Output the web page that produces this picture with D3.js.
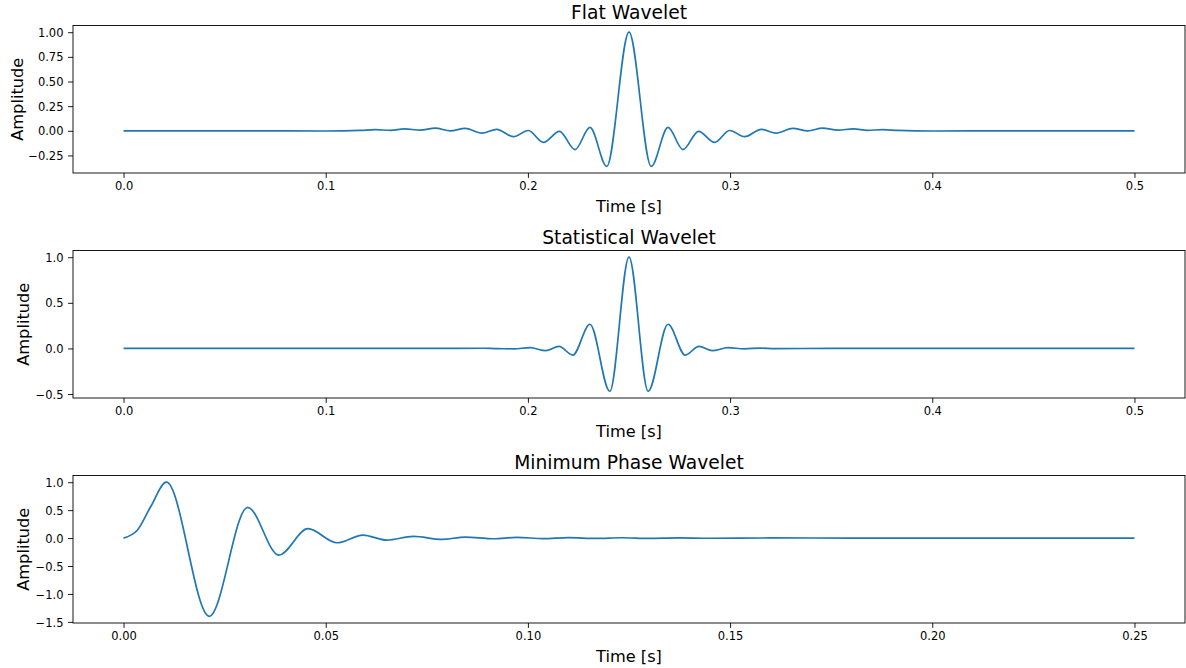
<!DOCTYPE html>
<html>
<head>
<meta charset="utf-8">
<script src="https://cdn.jsdelivr.net/npm/d3@7"></script>
<style>
    body { margin: 0; background: #fff; }
    text { font-family: "DejaVu Sans", sans-serif; fill: #000; }
</style>
</head>
<body>
<div id="chart-area"></div>
<script>
// wavelet samples (time in s, amplitude)
var flatTime = [0.000, 0.060, 0.100, 0.117, 0.1245, 0.132, 0.139, 0.1467, 0.1542, 0.1616, 0.169, 0.1772, 0.1846, 0.1928, 0.2002, 0.2077, 0.2156, 0.2233, 0.2307, 0.2390, 0.2500, 0.2610, 0.2693, 0.2767, 0.2844, 0.2923, 0.2998, 0.3072, 0.3154, 0.3228, 0.3310, 0.3384, 0.3458, 0.3533, 0.3610, 0.3680, 0.3755, 0.383, 0.400, 0.440, 0.500];
var flatAmp  = [0, 0, -0.002, 0.004, 0.012, 0.004, 0.02, 0.007, 0.027, 0.0, 0.025, -0.024, 0.015, -0.06, 0.003, -0.118, -0.005, -0.19, 0.034, -0.36, 1.0, -0.36, 0.034, -0.19, -0.005, -0.118, 0.003, -0.06, 0.015, -0.024, 0.025, 0.0, 0.027, 0.007, 0.02, 0.004, 0.012, 0.004, -0.002, 0, 0];

var statTime = [0.000, 0.150, 0.178, 0.185, 0.193, 0.2011, 0.2088, 0.2154, 0.2222, 0.2307, 0.2405, 0.2500, 0.2595, 0.2693, 0.2778, 0.2846, 0.2912, 0.2989, 0.307, 0.315, 0.322, 0.350, 0.500];
var statAmp  = [0, 0, 0.002, -0.003, -0.004, 0.008, -0.025, 0.022, -0.073, 0.265, -0.47, 1.0, -0.47, 0.265, -0.073, 0.022, -0.025, 0.008, -0.004, 0.003, -0.002, 0, 0];

var minTime = [0.000, 0.0034, 0.0067, 0.0106, 0.0212, 0.0307, 0.0384, 0.0456, 0.0528, 0.0592, 0.0651, 0.0717, 0.0787, 0.0845, 0.0915, 0.0973, 0.1038, 0.110, 0.117, 0.123, 0.130, 0.137, 0.145, 0.160, 0.180, 0.250];
var minAmp  = [0, 0.14, 0.56, 1.0, -1.40, 0.55, -0.305, 0.168, -0.084, 0.054, -0.036, 0.03, -0.024, 0.018, -0.012, 0.012, -0.01, 0.008, -0.007, 0.006, -0.005, 0.004, -0.003, 0.002, 0, 0];

var titles = ["Flat Wavelet", "Statistical Wavelet", "Minimum Phase Wavelet"];
var flatYTicks = [-0.25, 0, 0.25, 0.5, 0.75, 1.0];
var statYTicks = [-0.5, 0, 0.5, 1.0];
var minYTicks = [-1.5, -1.0, -0.5, 0, 0.5, 1.0];
var halfXTicks = [0, 0.1, 0.2, 0.3, 0.4, 0.5];
var quarterXTicks = [0, 0.05, 0.1, 0.15, 0.2, 0.25];

// SVG drawing area
var width = 1186, height = 668;
var plotLeft = 73, plotRight = 1185, plotHeight = 147.5;
var tops = [25.5, 250.5, 475.5];

var svg = d3.select("#chart-area").append("svg")
    .attr("width", width)
    .attr("height", height);

svg.append("rect").attr("width", width).attr("height", height).attr("fill", "#fff");

var panels = [
    {time: flatTime, amp: flatAmp, yTicks: flatYTicks, xTicks: halfXTicks, yFmt: ".2f", xFmt: ".1f", labelX: 23},
    {time: statTime, amp: statAmp, yTicks: statYTicks, xTicks: halfXTicks, yFmt: ".1f", xFmt: ".1f", labelX: 29},
    {time: minTime, amp: minAmp, yTicks: minYTicks, xTicks: quarterXTicks, yFmt: ".1f", xFmt: ".2f", labelX: 29}
];

panels.forEach(function(p, i) {
    var top = tops[i];
    var bottom = top + plotHeight;

    // matplotlib style 5% margins
    var tx = d3.extent(p.time), ay = d3.extent(p.amp);
    var padX = (tx[1] - tx[0]) * 0.05, padY = (ay[1] - ay[0]) * 0.05;

    var x = d3.scaleLinear()
        .domain([tx[0] - padX, tx[1] + padX])
        .range([plotLeft, plotRight]);
    var y = d3.scaleLinear()
        .domain([ay[0] - padY, ay[1] + padY])
        .range([bottom, top]);

    var g = svg.append("g");

    // line
    var line = d3.line()
        .x(function(d) { return x(d[0]); })
        .y(function(d) { return y(d[1]); })
        .curve(d3.curveMonotoneX);

    g.append("path")
        .datum(p.time.map(function(t, k) { return [t, p.amp[k]]; }))
        .attr("d", line)
        .style("fill", "none")
        .style("stroke", "#1f77b4")
        .style("stroke-width", 1.7)
        .style("stroke-linejoin", "round");

    // axes
    var xAxis = g.append("g")
        .attr("transform", "translate(0," + bottom + ")")
        .call(d3.axisBottom(x).tickValues(p.xTicks).tickFormat(d3.format(p.xFmt)).tickSize(4.9).tickPadding(3.6));
    var yAxis = g.append("g")
        .attr("transform", "translate(" + plotLeft + ",0)")
        .call(d3.axisLeft(y).tickValues(p.yTicks).tickFormat(d3.format(p.yFmt)).tickSize(4.9).tickPadding(4.6));

    [xAxis, yAxis].forEach(function(a) {
        a.select(".domain").remove();
        a.selectAll("line").style("stroke", "#000").style("stroke-width", 0.9);
        a.selectAll("text").style("font-size", "11.5px").attr("fill", "#000");
    });
    yAxis.selectAll("text").attr("dy", "0.36em");
    xAxis.selectAll("text").attr("dy", "0.74em");

    // frame
    g.append("rect")
        .attr("x", plotLeft)
        .attr("y", top)
        .attr("width", plotRight - plotLeft)
        .attr("height", plotHeight)
        .style("fill", "none")
        .style("stroke", "#000")
        .style("stroke-width", 0.9);

    // labels
    g.append("text")
        .attr("x", (plotLeft + plotRight) / 2)
        .attr("y", top - 7)
        .style("text-anchor", "middle")
        .style("font-size", "18.7px")
        .text(titles[i]);

    g.append("text")
        .attr("x", (plotLeft + plotRight) / 2)
        .attr("y", bottom + 38.5)
        .style("text-anchor", "middle")
        .style("font-size", "16.2px")
        .text("Time [s]");

    g.append("text")
        .attr("transform", "translate(" + p.labelX + "," + (top + plotHeight / 2) + ") rotate(-90)")
        .style("text-anchor", "middle")
        .style("font-size", "16.2px")
        .text("Amplitude");
});
</script>
</body>
</html>
